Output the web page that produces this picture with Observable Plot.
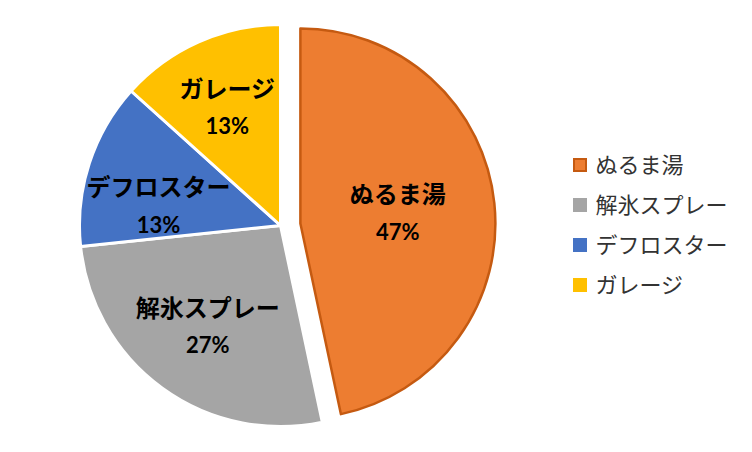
<!DOCTYPE html>
<html><head><meta charset="utf-8">
<script src="https://cdn.jsdelivr.net/npm/d3@7"></script>
<script src="https://cdn.jsdelivr.net/npm/@observablehq/plot@0.6"></script>
<style>html,body{margin:0;padding:0;background:#fff;} #chart svg{display:block;}</style>
</head><body><div id="chart"></div>
<script>
// ---- data ----
const categories = ["ぬるま湯", "解氷スプレー", "デフロスター", "ガレージ"];
const values = [7, 4, 2, 2];
const percentLabels = ["47%", "27%", "13%", "13%"];
const colors = ["#ED7D31", "#A5A5A5", "#4472C4", "#FFC000"];
const explodedCategory = "ぬるま湯";

// ---- layout ----
const W = 752, H = 452;
const cx = 280.5, cy = 225.5, R = 201, Rx = 195, explode = 20;
const darkOrange = "#C55A11";
// best-fit label nudges (pixels), as Excel places them
const labelNudge = {"デフロスター": [-4, 19], "ガレージ": [-3, -4]};

const rows = categories.map((c, i) => ({category: c, value: values[i], pct: percentLabels[i], i}));
const arcs = d3.pie().sort(null).value(d => d.value)(rows);
arcs.forEach(a => {
  const mid = (a.startAngle + a.endAngle) / 2;
  const ex = a.data.category === explodedCategory;
  a.ex = ex;
  a.r = ex ? Rx : R;
  a.ox = cx + (ex ? explode * Math.sin(mid) : 0);
  a.oy = cy - (ex ? explode * Math.cos(mid) : 0);
  const k = ex ? 0.5 : 0.62;
  const [nx, ny] = labelNudge[a.data.category] || [0, 0];
  a.lx = a.ox + k * a.r * Math.sin(mid) + nx;
  a.ly = a.oy - k * a.r * Math.cos(mid) + ny;
  a.category = a.data.category;
  a.pct = a.data.pct;
});

const legendX = 573, legendY0 = 165, legendStep = 40, sw = 14;
const legendRows = rows.map(r => ({...r, yc: legendY0 + r.i * legendStep}));

const colorScale = Plot.scale({color: {domain: categories, range: colors}});

function slices(index, scales) {
  const color = (scales && scales.color) ? scales.color : (c) => colorScale.apply(c);
  const sx = (scales && scales.x) ? scales.x : (v) => v;
  const sy = (scales && scales.y) ? scales.y : (v) => v;
  const g = d3.create("svg:g");
  const arcGen = d3.arc().innerRadius(0);
  g.selectAll("path").data(arcs).join("path")
    .attr("transform", a => `translate(${sx(a.ox)},${sy(a.oy)})`)
    .attr("d", a => arcGen.outerRadius(a.r)(a))
    .attr("fill", a => color(a.category))
    .attr("stroke", a => a.ex ? darkOrange : "#fff")
    .attr("stroke-width", a => a.ex ? 2.5 : 3)
    .attr("stroke-linejoin", "round");
  return g.node();
}

const cjk = "'Noto Sans CJK JP', 'Noto Sans', sans-serif";

const chart = Plot.plot({
  width: W, height: H,
  margin: 0,
  x: {domain: [0, W], range: [0, W], axis: null},
  y: {domain: [0, H], range: [0, H], axis: null},
  color: {domain: categories, range: colors},
  style: {background: "#fff", fontFamily: cjk},
  marks: [
    slices,
    Plot.text(arcs, {x: "lx", y: a => a.ly - 18, text: "category", fontSize: 24, fontWeight: "bold", fill: "#000", fontFamily: cjk}),
    Plot.text(arcs, {x: "lx", y: a => a.ly + 19, text: "pct", fontSize: 22, fontWeight: "bold", fill: "#000", fontFamily: "Lato, 'Open Sans', sans-serif"}),
    Plot.rect(legendRows, {x1: () => legendX, x2: () => legendX + sw, y1: d => d.yc - sw / 2, y2: d => d.yc + sw / 2, fill: "category"}),
    Plot.rect(legendRows.filter(d => d.category === explodedCategory), {x1: () => legendX + 1, x2: () => legendX + sw - 1, y1: d => d.yc - sw / 2 + 1, y2: d => d.yc + sw / 2 - 1, fill: "none", stroke: darkOrange, strokeWidth: 2}),
    Plot.text(legendRows, {x: () => legendX + sw + 8, y: "yc", text: "category", textAnchor: "start", fontSize: 22, fill: "#333", fontFamily: cjk})
  ]
});
document.getElementById("chart").appendChild(chart);
</script>
</body></html>
